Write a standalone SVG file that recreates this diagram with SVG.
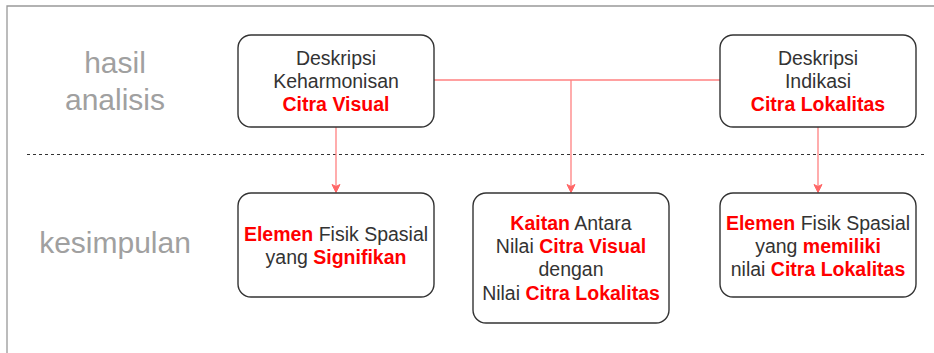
<svg xmlns="http://www.w3.org/2000/svg" width="934" height="353" viewBox="0 0 934 353">
<style>
.box{fill:#fff;stroke:#333;stroke-width:1.4}
.t{font-family:"Liberation Sans",Arial,sans-serif;font-size:19.5px;fill:#333;text-anchor:middle}
.r{fill:#ff0000;font-weight:bold}
.lbl{font-family:"Liberation Sans",Arial,sans-serif;font-size:30px;fill:#a0a0a0;text-anchor:middle}
.c{fill:none;stroke:#ff8080;stroke-width:1.3}
</style>
<defs>
<marker id="arr" markerWidth="12" markerHeight="12" refX="11" refY="6" orient="auto" markerUnits="userSpaceOnUse">
<path d="M3,2 L11,6 L3,10 L5,6 Z" fill="#ff6666" stroke="#ff6666" stroke-width="1" stroke-linejoin="round"/>
</marker>
</defs>
<rect width="934" height="353" fill="#fff"/>
<path d="M7,353 V6 H934" fill="none" stroke="#999" stroke-width="1.3"/>
<line x1="27" y1="154.5" x2="924" y2="154.5" stroke="#333" stroke-width="1.2" stroke-dasharray="3,3"/>
<g id="label-hasil">
<text class="lbl" x="115" y="72.5">hasil</text>
<text class="lbl" x="115" y="109.5">analisis</text>
</g>
<g id="label-kesimpulan">
<text class="lbl" x="115" y="253">kesimpulan</text>
</g>
<g id="connectors">
<path class="c" d="M434,80 H720"/>
<path class="c" d="M571,80 V192.5" marker-end="url(#arr)"/>
<path class="c" d="M336,127 V192.5" marker-end="url(#arr)"/>
<path class="c" d="M818,127 V192.5" marker-end="url(#arr)"/>
</g>
<g id="n-visual">
<rect class="box" x="238" y="35" width="196" height="92" rx="13"/>
<text class="t" x="336" y="65">Deskripsi</text>
<text class="t" x="336" y="88">Keharmonisan</text>
<text class="t" x="336" y="111"><tspan class="r">Citra Visual</tspan></text>
</g>
<g id="n-lokalitas">
<rect class="box" x="720" y="35" width="196" height="92" rx="13"/>
<text class="t" x="818" y="65">Deskripsi</text>
<text class="t" x="818" y="88">Indikasi</text>
<text class="t" x="818" y="111"><tspan class="r">Citra Lokalitas</tspan></text>
</g>
<g id="n-signifikan">
<rect class="box" x="238" y="193" width="196" height="104" rx="13"/>
<text class="t" x="336" y="241"><tspan class="r">Elemen</tspan> Fisik Spasial</text>
<text class="t" x="336" y="264">yang <tspan class="r">Signifikan</tspan></text>
</g>
<g id="n-kaitan">
<rect class="box" x="473" y="193" width="196" height="130" rx="13"/>
<text class="t" x="571" y="229.5"><tspan class="r">Kaitan</tspan> Antara</text>
<text class="t" x="571" y="253">Nilai <tspan class="r">Citra Visual</tspan></text>
<text class="t" x="571" y="276">dengan</text>
<text class="t" x="571" y="299.5">Nilai <tspan class="r">Citra Lokalitas</tspan></text>
</g>
<g id="n-memiliki">
<rect class="box" x="720" y="193" width="196" height="104" rx="13"/>
<text class="t" x="818" y="229.5"><tspan class="r">Elemen</tspan> Fisik Spasial</text>
<text class="t" x="818" y="253">yang <tspan class="r">memiliki</tspan></text>
<text class="t" x="818" y="276">nilai <tspan class="r">Citra Lokalitas</tspan></text>
</g>
</svg>
